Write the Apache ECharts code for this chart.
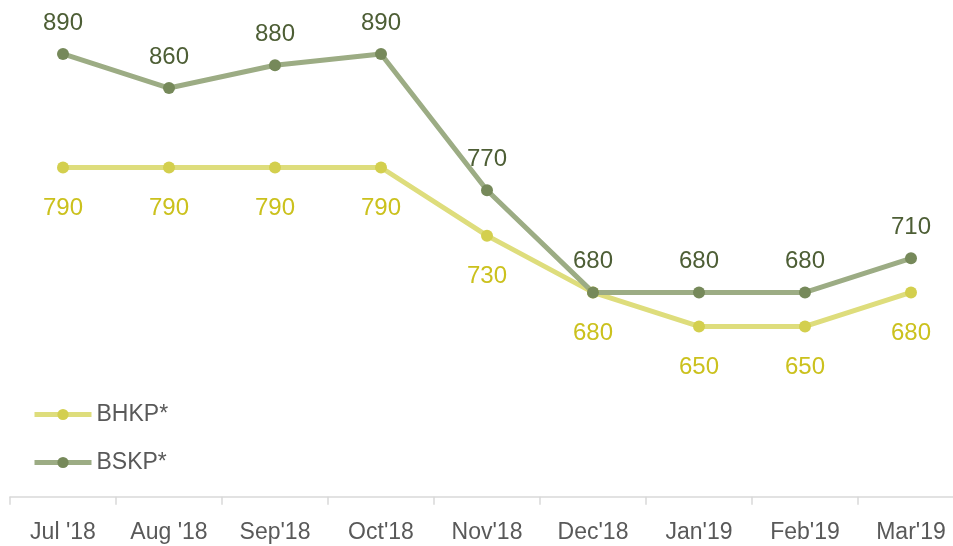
<!DOCTYPE html>
<html><head><meta charset="utf-8">
<script src="https://cdn.jsdelivr.net/npm/echarts@6/dist/echarts.min.js"></script>
<style>html,body{margin:0;padding:0;background:#fff;overflow:hidden;width:953px;height:546px}#c{width:964px;height:546px}</style>
</head><body><div id="c"></div>
<script>
const categories = ["Jul '18","Aug '18","Sep'18","Oct'18","Nov'18","Dec'18","Jan'19","Feb'19","Mar'19"];
const bhkp = [790,790,790,790,730,680,650,650,680];
const bskp = [890,860,880,890,770,680,680,680,710];
const FONT = "Liberation Sans";
const chart = echarts.init(document.getElementById('c'));
chart.setOption({
  animation:false,
  textStyle:{fontFamily:FONT},
  grid:{left:10,right:0,top:42.6,bottom:49.2,containLabel:false},
  legend:{
    orient:'vertical',left:32,top:403,padding:0,itemGap:25,itemWidth:57,itemHeight:14,
    textStyle:{fontFamily:FONT,fontSize:23,color:'#595959'},
    data:[{name:'BHKP*',lineStyle:{width:5,color:'#dedd7c'}},{name:'BSKP*',lineStyle:{width:5,color:'#9cac84'}}]
  },
  xAxis:{
    type:'category',data:categories,boundaryGap:true,
    axisLine:{lineStyle:{color:'#d9d9d9',width:1.5}},
    axisTick:{show:true,length:8,lineStyle:{color:'#d9d9d9',width:1.5}},
    axisLabel:{interval:0,fontFamily:FONT,fontSize:23,color:'#595959',margin:24}
  },
  yAxis:{type:'value',min:500,max:900,show:false,splitLine:{show:false}},
  series:[
    {name:'BHKP*',type:'line',data:bhkp,symbol:'circle',symbolSize:12,
      lineStyle:{color:'#dedd7c',width:5},itemStyle:{color:'#d3cf4e'},
      label:{show:true,position:'bottom',distance:23,fontFamily:FONT,fontSize:24,color:'#cbc11d'}},
    {name:'BSKP*',type:'line',data:bskp,symbol:'circle',symbolSize:12,
      lineStyle:{color:'#9cac84',width:5},itemStyle:{color:'#76895a'},
      label:{show:true,position:'top',distance:13,fontFamily:FONT,fontSize:24,color:'#4d5e35'}}
  ]
});
</script></body></html>
